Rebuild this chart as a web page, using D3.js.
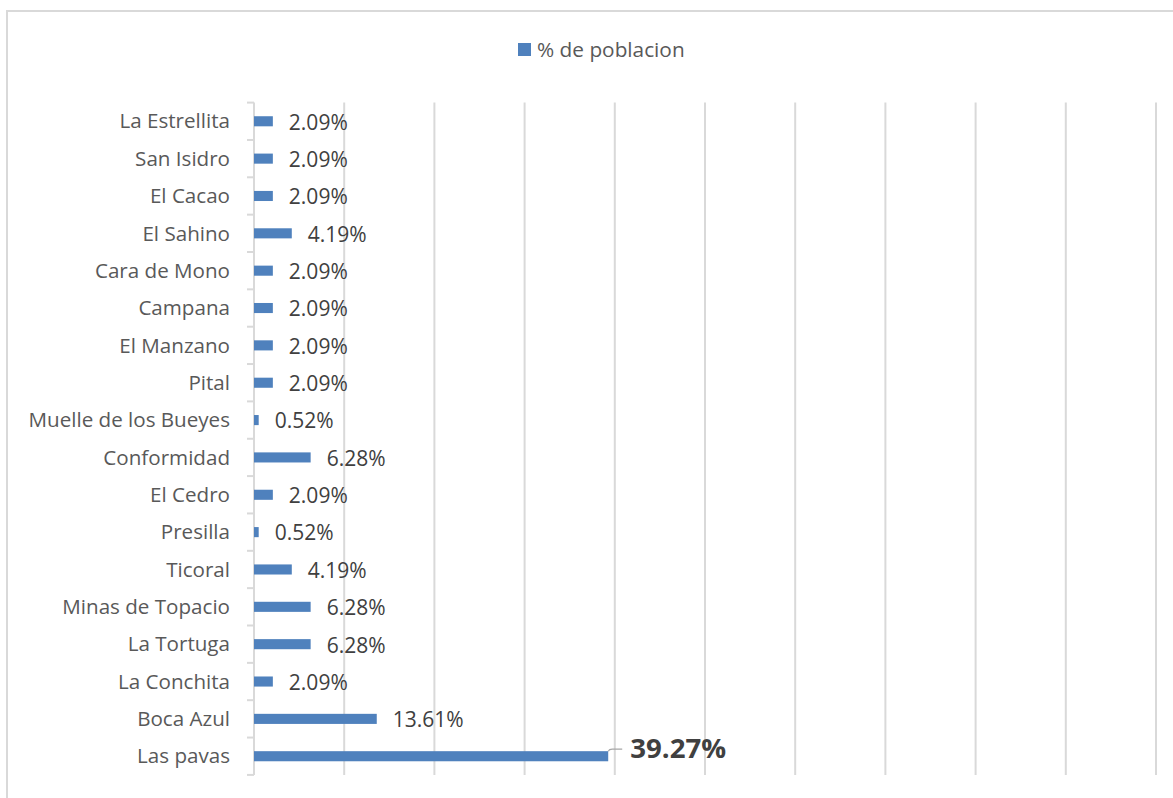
<!DOCTYPE html>
<meta charset="utf-8">
<style>
  html, body { margin: 0; padding: 0; background: #fff; }
  svg { display: block; font-family: "Open Sans", sans-serif; }
</style>
<svg id="chart" width="1173" height="798"></svg>
<script src="https://cdnjs.cloudflare.com/ajax/libs/d3/7.8.5/d3.min.js"></script>
<script>
  // data, top row first
  const categories = ["La Estrellita", "San Isidro", "El Cacao", "El Sahino", "Cara de Mono",
    "Campana", "El Manzano", "Pital", "Muelle de los Bueyes", "Conformidad", "El Cedro",
    "Presilla", "Ticoral", "Minas de Topacio", "La Tortuga", "La Conchita", "Boca Azul", "Las pavas"];
  const values = [2.09, 2.09, 2.09, 4.19, 2.09, 2.09, 2.09, 2.09, 0.52, 6.28, 2.09,
    0.52, 4.19, 6.28, 6.28, 2.09, 13.61, 39.27];
  const seriesName = "% de poblacion";
  const xTicks = [0, 10, 20, 30, 40, 50, 60, 70, 80, 90, 100];

  const rows = categories.map((c, i) => ({ cat: c, v: values[i] }));
  const blue = "#4f81bd";
  const grid = "#d9d9d9";

  let svg = d3.select("#chart");

  // outer chart border (right/bottom edges fall off the picture)
  svg.append("rect")
    .attr("x", 7).attr("y", 11)
    .attr("width", 1180).attr("height", 800)
    .attr("fill", "none").attr("stroke", grid).attr("stroke-width", 2);

  let x = d3.scaleLinear().domain([0, 100]).range([254, 1156]);
  let y = d3.scaleBand().domain(categories).range([102.6, 774.9])
    .paddingInner(0.73).paddingOuter(0.365);

  // vertical gridlines
  svg.append("g").selectAll("line")
    .data(xTicks.slice(1))
    .join("line")
    .attr("x1", d => x(d)).attr("x2", d => x(d))
    .attr("y1", 102.6).attr("y2", 774.9)
    .attr("stroke", grid).attr("stroke-width", 2);

  // category axis with ticks on band boundaries
  let edges = categories.map(c => y(c) - y.paddingInner() * y.step() / 2);
  edges.push(edges[edges.length - 1] + y.step());
  let axis = svg.append("g");
  axis.append("line")
    .attr("x1", x(0)).attr("x2", x(0))
    .attr("y1", edges[0]).attr("y2", edges[edges.length - 1])
    .attr("stroke", grid).attr("stroke-width", 2);
  axis.selectAll(".tick").data(edges).join("line")
    .attr("class", "tick")
    .attr("x1", x(0) - 7).attr("x2", x(0))
    .attr("y1", d => d).attr("y2", d => d)
    .attr("stroke", grid).attr("stroke-width", 2);

  axis.selectAll("text").data(categories).join("text")
    .attr("x", 230)
    .attr("y", d => y(d) + y.bandwidth() / 2)
    .attr("dy", "0.35em")
    .attr("text-anchor", "end")
    .attr("font-size", 20.6)
    .attr("fill", "#595959")
    .text(d => d);

  // bars
  svg.append("g").selectAll("rect")
    .data(rows)
    .join("rect")
    .attr("x", x(0))
    .attr("y", d => y(d.cat))
    .attr("width", d => x(d.v) - x(0))
    .attr("height", y.bandwidth())
    .attr("fill", blue);

  // data labels
  let last = rows[rows.length - 1];
  svg.append("g").selectAll("text")
    .data(rows.slice(0, -1))
    .join("text")
    .attr("x", d => x(d.v) + 16)
    .attr("y", d => y(d.cat) + y.bandwidth() / 2 + 1)
    .attr("dy", "0.35em")
    .attr("font-size", 21)
    .attr("fill", "#404040")
    .text(d => d.v.toFixed(2) + "%");

  // the big one has a leader line and a bold label
  let ly = y(last.cat);
  svg.append("path")
    .attr("d", `M${x(last.v)},${ly} Q${x(last.v) + 1},${ly - 2} ${x(last.v) + 4},${ly - 2} L${x(last.v) + 14},${ly - 2}`)
    .attr("fill", "none").attr("stroke", "#a6a6a6").attr("stroke-width", 1.2);
  svg.append("text")
    .attr("x", x(last.v) + 22)
    .attr("y", ly - 3)
    .attr("dy", "0.35em")
    .attr("font-size", 27.6)
    .attr("font-weight", "bold")
    .attr("fill", "#404040")
    .text(last.v.toFixed(2) + "%");

  // legend
  let lg = svg.append("g");
  lg.append("rect").attr("x", 518).attr("y", 43).attr("width", 13).attr("height", 13).attr("fill", blue);
  lg.append("text").attr("x", 537).attr("y", 50).attr("dy", "0.35em")
    .attr("font-size", 20.8).attr("fill", "#595959").text(seriesName);
</script>
